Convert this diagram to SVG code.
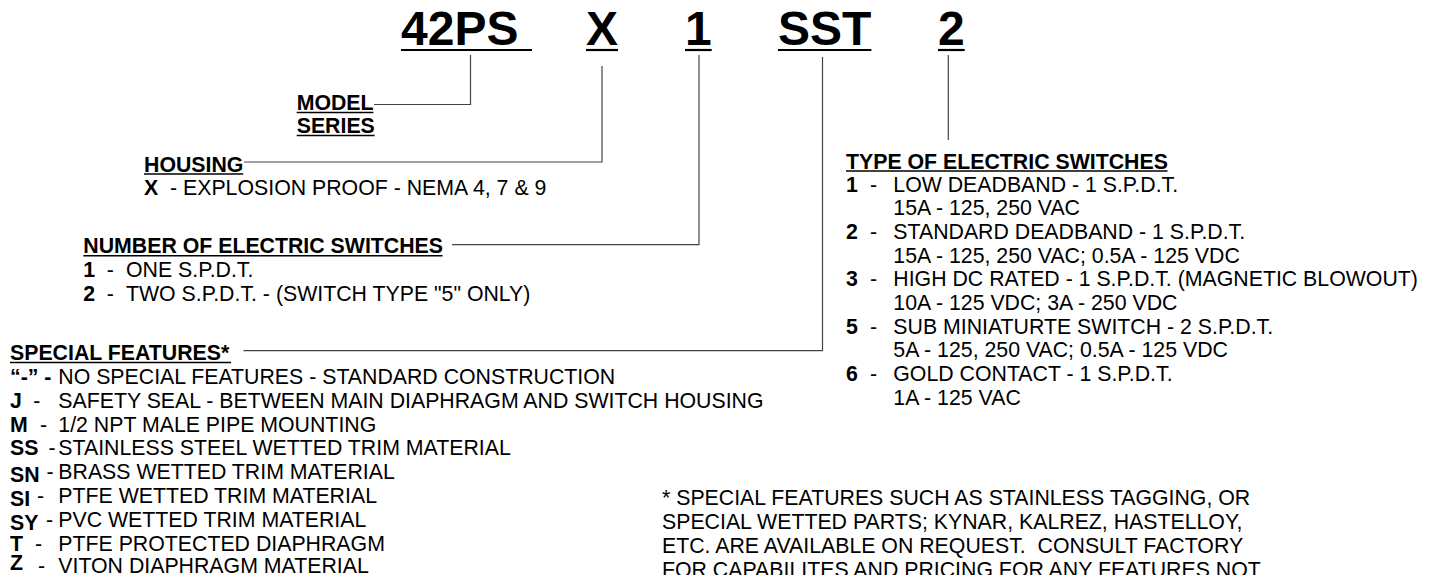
<svg xmlns="http://www.w3.org/2000/svg" width="1434" height="575" viewBox="0 0 1434 575">
<style>
text{font-family:"Liberation Sans",Arial,sans-serif;font-size:21.3px;fill:#000;white-space:pre}
.b{font-weight:bold}
.t{font-size:48px;font-weight:bold}
.c{fill:none;stroke:#444;stroke-width:1.2}
.u{stroke:#000;stroke-width:1.5}
.tu{stroke:#000;stroke-width:2.2}
</style>
<rect width="1434" height="575" fill="#fff"/>
<g id="title">
<text class="t" x="401" y="45">42PS</text>
<text class="t" x="586" y="45">X</text>
<text class="t" x="685" y="45">1</text>
<text class="t" x="778" y="45">SST</text>
<text class="t" x="938" y="45">2</text>
<line class="tu" x1="401" y1="50" x2="532" y2="50"/>
<line class="tu" x1="586" y1="50" x2="618" y2="50"/>
<line class="tu" x1="685" y1="50" x2="711.7" y2="50"/>
<line class="tu" x1="778" y1="50" x2="871.4" y2="50"/>
<line class="tu" x1="938" y1="50" x2="964.7" y2="50"/>
</g>
<g id="connectors">
<path class="c" d="M470.5,55 V104.5 H374"/>
<path class="c" d="M602,66 V162 H244"/>
<path class="c" d="M699,55 V244.7 H452"/>
<path class="c" d="M822.5,57 V350.7 H243.5"/>
<path class="c" d="M948.3,55 V140"/>
</g>
<g id="model-series">
<text class="b" x="296.7" y="110">MODEL</text>
<text class="b" x="296.7" y="133">SERIES</text>
<line class="u" x1="296.7" y1="112.5" x2="373.4" y2="112.5"/>
<line class="u" x1="296.7" y1="135.5" x2="374.6" y2="135.5"/>
</g>
<g id="housing">
<text class="b" x="144" y="171.5">HOUSING</text>
<line class="u" x1="144" y1="174" x2="243.2" y2="174"/>
<text class="b" x="144" y="195">X</text>
<text x="170" y="195">- EXPLOSION PROOF - NEMA 4, 7 &amp; 9</text>
</g>
<g id="number-of-switches">
<text class="b" x="83.3" y="253.3">NUMBER OF ELECTRIC SWITCHES</text>
<line class="u" x1="83.3" y1="255.8" x2="442.5" y2="255.8"/>
<text class="b" x="83.3" y="277">1</text>
<text x="106.7" y="277">-</text>
<text x="126" y="277">ONE S.P.D.T.</text>
<text class="b" x="83.3" y="301">2</text>
<text x="106.7" y="301">-</text>
<text x="126" y="301">TWO S.P.D.T. - (SWITCH TYPE "5" ONLY)</text>
</g>
<g id="special-features">
<text class="b" x="10" y="360">SPECIAL FEATURES*</text>
<line class="u" x1="10" y1="362.5" x2="231" y2="362.5"/>
<text class="b" x="10" y="384.3">“-” -</text>
<text x="58.3" y="384.3">NO SPECIAL FEATURES - STANDARD CONSTRUCTION</text>
<text class="b" x="10" y="408">J</text>
<text x="33.3" y="408">-</text>
<text x="58.3" y="408">SAFETY SEAL - BETWEEN MAIN DIAPHRAGM AND SWITCH HOUSING</text>
<text class="b" x="10" y="431.7">M</text>
<text x="40" y="431.7">-</text>
<text x="58.3" y="431.7">1/2 NPT MALE PIPE MOUNTING</text>
<text class="b" x="10" y="455">SS</text>
<text x="48.5" y="455">-</text>
<text x="58.3" y="455">STAINLESS STEEL WETTED TRIM MATERIAL</text>
<text class="b" x="10" y="481.5">SN</text>
<text x="46.5" y="478.5">-</text>
<text x="58.3" y="478.5">BRASS WETTED TRIM MATERIAL</text>
<text class="b" x="10" y="505.5">SI</text>
<text x="37" y="502.5">-</text>
<text x="58.3" y="502.5">PTFE WETTED TRIM MATERIAL</text>
<text class="b" x="10" y="529.5">SY</text>
<text x="46" y="526.5">-</text>
<text x="58.3" y="526.5">PVC WETTED TRIM MATERIAL</text>
<text class="b" x="10" y="550.5">T</text>
<text x="35" y="550.5">-</text>
<text x="58.3" y="550.5">PTFE PROTECTED DIAPHRAGM</text>
<text class="b" x="10" y="570">Z</text>
<text x="38" y="572.5">-</text>
<text x="58.3" y="572.5">VITON DIAPHRAGM MATERIAL</text>
</g>
<g id="type-of-switches">
<text class="b" x="846" y="168.5">TYPE OF ELECTRIC SWITCHES</text>
<line class="u" x1="846" y1="171" x2="1167.5" y2="171"/>
<text class="b" x="846" y="191.7">1</text>
<text x="870" y="191.7">-</text>
<text x="893.3" y="191.7">LOW DEADBAND - 1 S.P.D.T.</text>
<text x="893.3" y="215.3">15A - 125, 250 VAC</text>
<text class="b" x="846" y="239">2</text>
<text x="870" y="239">-</text>
<text x="893.3" y="239">STANDARD DEADBAND - 1 S.P.D.T.</text>
<text x="893.3" y="262.7">15A - 125, 250 VAC; 0.5A - 125 VDC</text>
<text class="b" x="846" y="286.4">3</text>
<text x="870" y="286.4">-</text>
<text x="893.3" y="286.4">HIGH DC RATED - 1 S.P.D.T. (MAGNETIC BLOWOUT)</text>
<text x="893.3" y="310">10A - 125 VDC; 3A - 250 VDC</text>
<text class="b" x="846" y="333.7">5</text>
<text x="870" y="333.7">-</text>
<text x="893.3" y="333.7">SUB MINIATURTE SWITCH - 2 S.P.D.T.</text>
<text x="893.3" y="357.4">5A - 125, 250 VAC; 0.5A - 125 VDC</text>
<text class="b" x="846" y="381">6</text>
<text x="870" y="381">-</text>
<text x="893.3" y="381">GOLD CONTACT - 1 S.P.D.T.</text>
<text x="893.3" y="404.7">1A - 125 VAC</text>
</g>
<g id="footnote">
<text x="662" y="505">* SPECIAL FEATURES SUCH AS STAINLESS TAGGING, OR</text>
<text x="662" y="529">SPECIAL WETTED PARTS; KYNAR, KALREZ, HASTELLOY,</text>
<text x="662" y="553">ETC. ARE AVAILABLE ON REQUEST.  CONSULT FACTORY</text>
<text x="662" y="577">FOR CAPABILITES AND PRICING FOR ANY FEATURES NOT</text>
</g>
</svg>
